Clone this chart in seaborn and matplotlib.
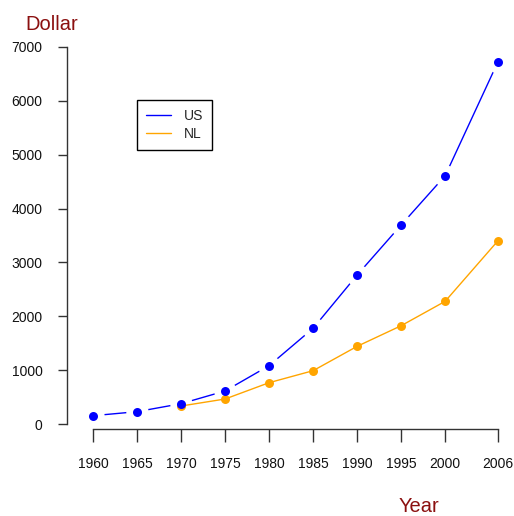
import matplotlib
matplotlib.use("Agg")
import matplotlib.pyplot as plt
import seaborn as sns
import pandas as pd
from matplotlib.lines import Line2D

years_us = [1960, 1965, 1970, 1975, 1980, 1985, 1990, 1995, 2000, 2006]
us_values = [154, 229, 377, 613, 1083, 1777, 2766, 3695, 4610, 6727]
years_nl = [1970, 1975, 1980, 1985, 1990, 1995, 2000, 2006]
nl_values = [334, 464, 767, 990, 1442, 1825, 2278, 3403]
x_ticks = [1960, 1965, 1970, 1975, 1980, 1985, 1990, 1995, 2000, 2006]
y_ticks = [0, 1000, 2000, 3000, 4000, 5000, 6000, 7000]
series_names = ["US", "NL"]

sns.set_style("ticks")
plt.rcParams['font.family'] = ['Liberation Sans', 'DejaVu Sans']

us = pd.DataFrame({"Year": years_us, "Dollar": us_values})
nl = pd.DataFrame({"Year": years_nl, "Dollar": nl_values})

W, H = 514, 516
fig = plt.figure(figsize=(W / 100, H / 100), dpi=100)
left, right, top, bottom = 67, 510, 40, 429
ax = fig.add_axes([left / W, (H - bottom) / H, (right - left) / W, (bottom - top) / H])

px_per_year = (498 - 93) / 46.0
px_per_unit = (424 - 47) / 7000.0
ax.set_xlim(1960 - (93 - left) / px_per_year, 2006 + (right - 498) / px_per_year)
ax.set_ylim(-(bottom - 424) / px_per_unit, 7000 + (47 - top) / px_per_unit)

# US: type "b" style (line with gaps around points)
sns.lineplot(data=us, x="Year", y="Dollar", color="blue", lw=1.0, ax=ax, zorder=2)
sns.scatterplot(data=us, x="Year", y="Dollar", color="white", s=260, linewidth=0, ax=ax, zorder=3)
# NL: overplotted line + points
sns.lineplot(data=nl, x="Year", y="Dollar", color="orange", lw=1.0, ax=ax, zorder=4)
sns.scatterplot(data=nl, x="Year", y="Dollar", color="orange", s=42, linewidth=0, ax=ax, zorder=5)
sns.scatterplot(data=us, x="Year", y="Dollar", color="blue", s=42, linewidth=0, ax=ax, zorder=6)

sns.despine(ax=ax)
ax.spines['left'].set_bounds(0, 7000)
ax.spines['bottom'].set_bounds(1960, 2006)
for s in ['left', 'bottom']:
    ax.spines[s].set_color('#333333')
    ax.spines[s].set_linewidth(1.0)

ax.set_xticks(x_ticks)
ax.set_xticklabels([str(t) for t in x_ticks])
ax.set_yticks(y_ticks)
ax.set_yticklabels([str(t) for t in y_ticks])
ax.tick_params(axis='x', length=9.5, width=1.0, color='#333333', pad=11, labelsize=10, labelcolor='#111111')
ax.tick_params(axis='y', length=6.5, width=1.0, color='#333333', pad=11, labelsize=10, labelcolor='#111111')
ax.set_xlabel("")
ax.set_ylabel("")

fig.text(25 / W, 1 - 30 / H, "Dollar", color="#8B1010", fontsize=14.5, ha="left", va="baseline")
fig.text(399 / W, 1 - 512 / H, "Year", color="#8B1010", fontsize=14.5, ha="left", va="baseline")

handles = [Line2D([], [], color="blue", lw=1.0), Line2D([], [], color="orange", lw=1.0)]
leg = ax.legend(handles, series_names, loc="upper left", bbox_to_anchor=(137 / W, 1 - 100 / H),
                bbox_transform=fig.transFigure, borderaxespad=0, fancybox=False,
                edgecolor="black", framealpha=1, fontsize=10, handlelength=1.8,
                handletextpad=0.9, labelspacing=0.25, borderpad=0.65)
leg.get_frame().set_linewidth(1.0)

fig.savefig("out.png", dpi=100)
